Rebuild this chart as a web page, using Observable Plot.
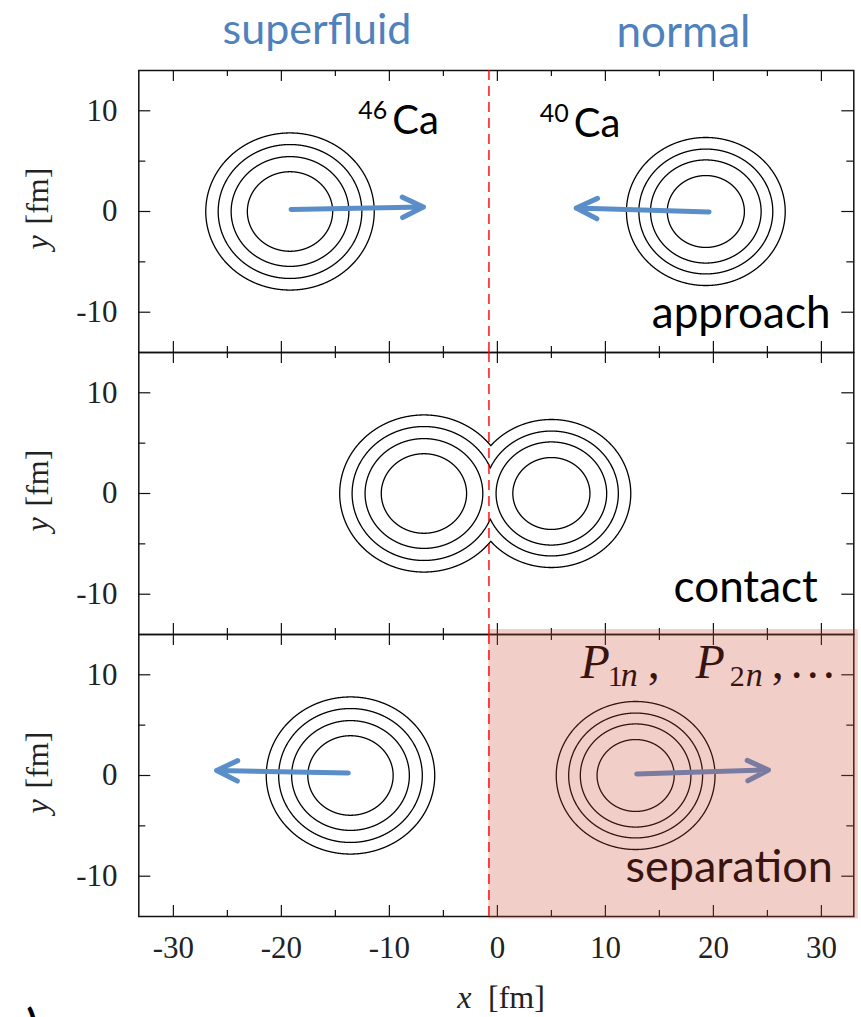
<!DOCTYPE html>
<html>
<head>
<meta charset="utf-8">
<script src="https://cdn.jsdelivr.net/npm/d3@7"></script>
<script src="https://cdn.jsdelivr.net/npm/@observablehq/plot@0.6"></script>
<style>
  html, body { margin: 0; padding: 0; background: #fff; }
  #chart svg { display: block; overflow: hidden; }
</style>
</head>
<body>
<div id="chart"></div>
<script>
// Stages of the collision, top to bottom
const panels = ["approach", "contact", "separation"];

// Centre (x, fm) of each nucleus in each stage; both sit on y = 0
const ca46Centre = [-19.2, -6.8, -13.6];
const ca40Centre = [19.3, 5.0, 12.8];

// Radii (fm) of the four density contours of each nucleus, inner to outer
const ca46Radii = [3.95, 5.45, 6.65, 7.8];
const ca40Radii = [3.57, 5.12, 6.2, 7.35];

// Velocity arrows: stage, tail and head (fm)
const arrowPanel = ["approach", "approach", "separation", "separation"];
const arrowX1 = [-19.1, 19.6, -13.8, 12.9];
const arrowY1 = [0.2, -0.05, 0.25, 0.15];
const arrowX2 = [-6.85, 7.3, -26.0, 25.1];
const arrowY2 = [0.45, 0.35, 0.5, 0.55];

// Boundary between the superfluid and normal halves (fm)
const dividerX = -0.78;

// Axis ticks and their labels
const xMajor = [-30, -20, -10, 0, 10, 20, 30];
const xMinor = [-25, -15, -5, 5, 15, 25];
const xTickLabels = ["-30", "-20", "-10", "0", "10", "20", "30"];
const yMajor = [-10, 0, 10];
const yMinor = [-5, 5];
const yTickLabels = ["-10", "0", "10"];

const xDomain = [-33.2, 33.0];
const yDomain = [-14, 14];

// Layout
const width = 861, height = 1017;
const marginTop = 69, marginBottom = 100.5, marginLeft = 138.3, marginRight = 7.7;
const panelH = (height - marginTop - marginBottom) / panels.length;
const frameW = width - marginLeft - marginRight;

const serif = "'Liberation Serif', 'Times New Roman', serif";
const sans = "Lato, 'Open Sans', sans-serif";

// Contour outlines: each level is a circle; where the two nuclei's circles of the
// same level overlap, the inner arcs are dropped so the outline encloses both.
const contourRows = [];
const STEPS = 1440;
panels.forEach((panel, p) => {
  const nuclei = [
    {name: "46Ca", cx: ca46Centre[p], radii: ca46Radii},
    {name: "40Ca", cx: ca40Centre[p], radii: ca40Radii}
  ];
  nuclei.forEach((n, i) => {
    const other = nuclei[1 - i];
    n.radii.forEach((r, k) => {
      const ro = other.radii[k];
      for (let s = 0; s <= STEPS; ++s) {
        const a = (2 * Math.PI * s) / STEPS;
        const x = n.cx + r * Math.cos(a);
        const y = r * Math.sin(a);
        const inside = Math.hypot(x - other.cx, y) < ro;
        contourRows.push({panel, id: `${panel}-${n.name}-${k}`, x, y: inside ? NaN : y});
      }
    });
  });
});

const arrows = arrowPanel.map((panel, i) => ({
  panel, x1: arrowX1[i], y1: arrowY1[i], x2: arrowX2[i], y2: arrowY2[i]
}));

// A single piece of text placed in one stage's panel
const note = (panel, text, options) =>
  Plot.text([text], {text: (d) => d, fy: () => panel, lineAnchor: "bottom", ...options});

const tickStyle = {stroke: "#111", strokeWidth: 1.2};
const inwardX = (values, len) => [
  Plot.tickX(values, {x: (d) => d, insetBottom: panelH - len, ...tickStyle}),
  Plot.tickX(values, {x: (d) => d, insetTop: panelH - len, ...tickStyle})
];
const inwardY = (values, len) => [
  Plot.tickY(values, {y: (d) => d, insetRight: frameW - len, ...tickStyle}),
  Plot.tickY(values, {y: (d) => d, insetLeft: frameW - len, ...tickStyle})
];

const chart = Plot.plot({
  width, height, marginTop, marginBottom, marginLeft, marginRight,
  x: {domain: xDomain, axis: null},
  y: {domain: yDomain, axis: null},
  fy: {domain: panels, axis: null, padding: 0},
  marks: [
    // density contours
    Plot.line(contourRows, {x: "x", y: "y", z: "id", fy: "panel", stroke: "#000", strokeWidth: 1.3}),

    // velocity arrows
    Plot.arrow(arrows, {
      x1: "x1", y1: "y1", x2: "x2", y2: "y2", fy: "panel",
      stroke: "#5a8ec8", strokeWidth: 5, headLength: 7, headAngle: 52,
      strokeLinecap: "round", strokeLinejoin: "round"
    }),

    // panel frames and inward ticks on all four sides
    Plot.frame({stroke: "#111", strokeWidth: 1.5}),
    ...inwardX(xMajor, 11.5),
    ...inwardX(xMinor, 6.5),
    ...inwardY(yMajor, 12),
    ...inwardY(yMinor, 7),

    // y tick labels and y axis title in every panel
    Plot.text(yMajor, {
      y: (d) => d, text: (d, i) => yTickLabels[i], frameAnchor: "left",
      textAnchor: "end", lineAnchor: "middle", dx: -21.3,
      fontFamily: serif, fontSize: 31, fill: "#222"
    }),
    Plot.text(["[fm]"], {
      text: (d) => d, frameAnchor: "left", rotate: -90, textAnchor: "start",
      lineAnchor: "bottom", dx: -91.3, dy: 13, fontFamily: serif, fontSize: 32, fill: "#222"
    }),
    Plot.text(["y"], {
      text: (d) => d, frameAnchor: "left", rotate: -90, textAnchor: "middle",
      lineAnchor: "bottom", dx: -91.3, dy: 31, fontFamily: serif, fontStyle: "italic",
      fontSize: 32, fill: "#222"
    }),

    // x tick labels and x axis title under the last panel
    Plot.text(xMajor, {
      x: (d) => d, text: (d, i) => xTickLabels[i], fy: () => "separation",
      frameAnchor: "bottom", lineAnchor: "bottom", dy: 41.5,
      fontFamily: serif, fontSize: 31, fill: "#222"
    }),
    note("separation", "x", {x: 0, frameAnchor: "bottom", textAnchor: "end", dx: -26, dy: 91.5,
      fontFamily: serif, fontStyle: "italic", fontSize: 32, fill: "#222"}),
    note("separation", "[fm]", {x: 0, frameAnchor: "bottom", textAnchor: "start", dx: -9.4, dy: 91.5,
      fontFamily: serif, fontSize: 32, fill: "#222"}),

    // phase headings above the first panel
    note("approach", "superfluid", {frameAnchor: "top-left", textAnchor: "middle", dx: 178.2, dy: -26.5,
      fontFamily: sans, fontSize: 43, fill: "#4f81bd"}),
    note("approach", "normal", {frameAnchor: "top-left", textAnchor: "middle", dx: 544.7, dy: -24,
      fontFamily: sans, fontSize: 44, fill: "#4f81bd"}),

    // nucleus names
    note("approach", "46", {frameAnchor: "top-left", textAnchor: "start", dx: 219.4, dy: 48.3, fontFamily: sans, fontSize: 25, fill: "#000"}),
    note("approach", "Ca", {frameAnchor: "top-left", textAnchor: "start", dx: 253.4, dy: 63.7, fontFamily: sans, fontSize: 40, fill: "#000"}),
    note("approach", "40", {frameAnchor: "top-left", textAnchor: "start", dx: 401, dy: 51, fontFamily: sans, fontSize: 25, fill: "#000"}),
    note("approach", "Ca", {frameAnchor: "top-left", textAnchor: "start", dx: 435, dy: 66, fontFamily: sans, fontSize: 40, fill: "#000"}),

    // stage names
    note("approach", "approach", {frameAnchor: "bottom-right", textAnchor: "end", dx: -23.3, dy: -24.8, fontFamily: sans, fontSize: 44, fill: "#000"}),
    note("contact", "contact", {frameAnchor: "bottom-right", textAnchor: "end", dx: -36, dy: -32.3, fontFamily: sans, fontSize: 44, fill: "#000"}),
    note("separation", "separation", {frameAnchor: "bottom-right", textAnchor: "end", dx: -21, dy: -34.8, fontFamily: sans, fontSize: 45, fill: "#000"}),

    // transfer probabilities P_1n, P_2n, ...
    note("separation", "P", {frameAnchor: "top-left", textAnchor: "start", dx: 441.7, dy: 43, fontFamily: serif, fontStyle: "italic", fontSize: 48, fill: "#000"}),
    note("separation", "1", {frameAnchor: "top-left", textAnchor: "start", dx: 469, dy: 51, fontFamily: serif, fontSize: 30, fill: "#000"}),
    note("separation", "n", {frameAnchor: "top-left", textAnchor: "start", dx: 482, dy: 51, fontFamily: serif, fontStyle: "italic", fontSize: 34, fill: "#000"}),
    note("separation", ",", {frameAnchor: "top-left", textAnchor: "start", dx: 509, dy: 43, fontFamily: serif, fontSize: 48, fill: "#000"}),
    note("separation", "P", {frameAnchor: "top-left", textAnchor: "start", dx: 556.7, dy: 43, fontFamily: serif, fontStyle: "italic", fontSize: 48, fill: "#000"}),
    note("separation", "2", {frameAnchor: "top-left", textAnchor: "start", dx: 591, dy: 51, fontFamily: serif, fontSize: 30, fill: "#000"}),
    note("separation", "n", {frameAnchor: "top-left", textAnchor: "start", dx: 607, dy: 51, fontFamily: serif, fontStyle: "italic", fontSize: 34, fill: "#000"}),
    note("separation", ",", {frameAnchor: "top-left", textAnchor: "start", dx: 633, dy: 43, fontFamily: serif, fontSize: 48, fill: "#000"}),
    note("separation", "\u2026", {frameAnchor: "top-left", textAnchor: "start", dx: 650, dy: 43, fontFamily: serif, fontSize: 48, fill: "#000"}),

    // panel tag at the lower edge
    note("separation", ")", {frameAnchor: "bottom-left", textAnchor: "start", dx: -112.3, dy: 121.5, fontFamily: sans, fontWeight: 700, fontSize: 40, fill: "#000"}),

    // shaded normal region after separation
    Plot.rect([{panel: "separation"}], {
      x1: dividerX, x2: xDomain[1], y1: yDomain[0], y2: yDomain[1], fy: "panel",
      insetTop: -5, insetBottom: -2.5, insetRight: -4.5,
      fill: "rgb(206,75,56)", fillOpacity: 0.27
    }),

    // dashed boundary
    Plot.ruleX([dividerX], {stroke: "#ff0000", strokeWidth: 1.4, strokeDasharray: "10,6"})
  ]
});

document.getElementById("chart").append(chart);
</script>
</body>
</html>
